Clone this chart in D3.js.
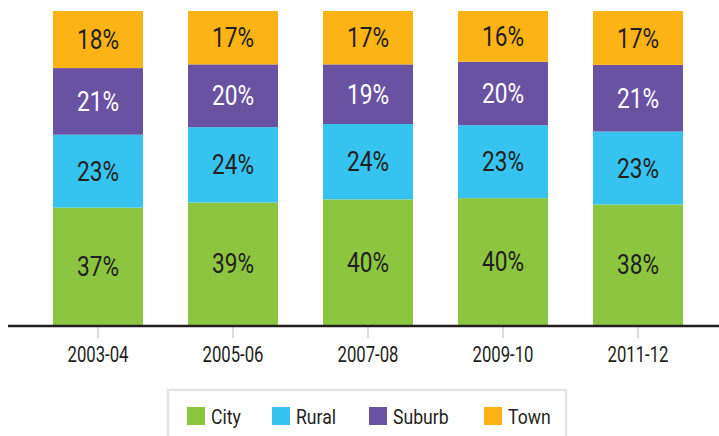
<!DOCTYPE html>
<html>
<head>
<meta charset="utf-8">
<script src="https://cdn.jsdelivr.net/npm/d3@7"></script>
<style>
  body { margin: 0; background: #fff; }
  text { font-family: Roboto, "DejaVu Sans Condensed", sans-serif; }
</style>
</head>
<body>
<svg id="chart" width="719" height="436"></svg>
<script>
// data
const years = ["2003-04", "2005-06", "2007-08", "2009-10", "2011-12"];
const seriesNames = ["City", "Rural", "Suburb", "Town"];
const city = [37, 39, 40, 40, 38];
const rural = [23, 24, 24, 23, 23];
const suburb = [21, 20, 19, 20, 21];
const town = [18, 17, 17, 16, 17];

const colors = ["#8cc540", "#36c3ef", "#6a52a2", "#fcb316"];
const labelColors = ["#231f20", "#231f20", "#ffffff", "#231f20"];

const rows = years.map((y, i) => ({
    year: y, City: city[i], Rural: rural[i], Suburb: suburb[i], Town: town[i]
}));

const svg = d3.select("#chart");
const baseY = 325, topY = 11;

const x = d3.scaleBand().domain(years).range([30.5, 705.5])
    .paddingInner(1/3).paddingOuter(1/6);
const y = d3.scaleLinear().domain([0, 1]).range([baseY, topY]);
const color = d3.scaleOrdinal().domain(seriesNames).range(colors);
const labelColor = d3.scaleOrdinal().domain(seriesNames).range(labelColors);

const stacked = d3.stack().keys(seriesNames).offset(d3.stackOffsetExpand)(rows);

const layers = svg.append("g").attr("class", "bars")
    .selectAll("g").data(stacked).enter().append("g")
    .attr("fill", d => color(d.key));

layers.selectAll("rect").data(d => d).enter().append("rect")
    .attr("x", d => x(d.data.year))
    .attr("width", x.bandwidth())
    .attr("y", d => y(d[1]))
    .attr("height", d => y(d[0]) - y(d[1]));

// percentage labels (condensed look via horizontal scale)
svg.append("g").attr("class", "labels")
    .selectAll("g").data(stacked).enter().append("g")
    .each(function(layer){
        d3.select(this).selectAll("text").data(layer).enter().append("text")
            .attr("transform", d => "translate(" + (x(d.data.year) + x.bandwidth() / 2) + ","
                + ((y(d[0]) + y(d[1])) / 2) + ") scale(0.84,1)")
            .attr("dy", "0.355em")
            .attr("text-anchor", "middle")
            .attr("font-size", 27)
            .attr("fill", labelColor(layer.key))
            .text(d => d.data[layer.key] + "%");
    });

// x axis
const axis = svg.append("g").attr("transform", "translate(0," + (baseY + 1) + ")")
    .call(d3.axisBottom(x).tickSize(12).tickPadding(8));
axis.select(".domain").remove();
axis.selectAll(".tick line").attr("stroke", "#dcdcdc").attr("stroke-width", 2);
axis.selectAll(".tick text").attr("fill", "#231f20").attr("font-size", 22)
    .attr("font-family", "Roboto, sans-serif")
    .attr("transform", "scale(0.76,1)");
svg.append("line").attr("x1", 8).attr("x2", 719)
    .attr("y1", baseY + 1).attr("y2", baseY + 1)
    .attr("stroke", "#231f20").attr("stroke-width", 2.5);

// legend
const legend = svg.append("g").attr("class", "legend");
legend.append("rect").attr("x", 168).attr("y", 390).attr("width", 398).attr("height", 60)
    .attr("fill", "#fff").attr("stroke", "#e4e4e4").attr("stroke-width", 2.5);
const legendX = [187, 272, 369, 484];
const items = legend.selectAll("g.item").data(seriesNames).enter().append("g")
    .attr("class", "item")
    .attr("transform", (d, i) => "translate(" + legendX[i] + ",407)");
items.append("rect").attr("width", 18).attr("height", 18).attr("fill", d => color(d));
items.append("text").attr("transform", "translate(24,16.5) scale(0.86,1)")
    .attr("font-size", 20.5).attr("fill", "#231f20").text(d => d);
</script>
</body>
</html>
